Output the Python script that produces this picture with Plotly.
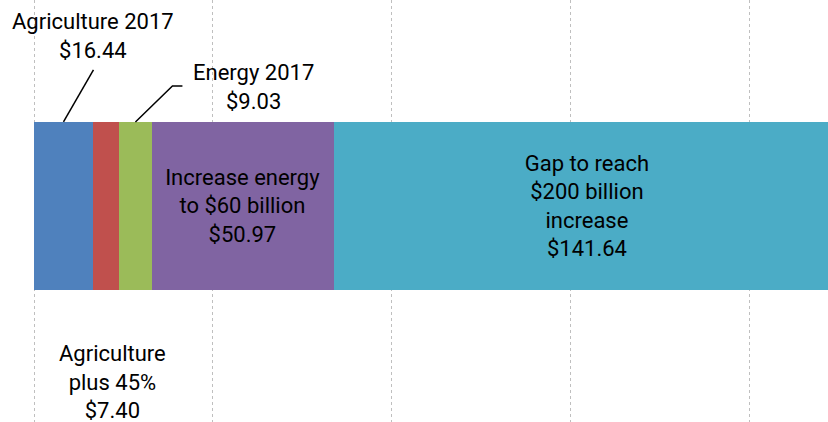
import plotly.graph_objects as go

# ---- data ----
categories = ["Agriculture 2017", "Agriculture plus 45%", "Energy 2017",
              "Increase energy to $60 billion", "Gap to reach $200 billion increase"]
values = [16.44, 7.40, 9.03, 50.97, 141.64]
inside_labels = ["", "", "", "Increase energy<br>to $60 billion", "Gap to reach<br>$200 billion<br>increase"]
show_inside = [False, False, False, True, True]
colors = ["#4F81BD", "#C0504D", "#9BBB59", "#8064A2", "#4BACC6"]
x_ticks = [0, 50, 100, 150, 200]

FONT = "Roboto"
FS = 22

fig = go.Figure()
for name, v, lab, show, col in zip(categories, values, inside_labels, show_inside, colors):
    txt = f"{lab}<br>${v:.2f}" if show else ""
    fig.add_trace(go.Bar(
        y=[0], x=[v], orientation="h", name=name, width=1,
        marker=dict(color=col, line=dict(width=0)),
        text=[txt], textposition="inside", insidetextanchor="middle",
        textangle=0, constraintext="none",
        insidetextfont=dict(family=FONT, size=FS, color="black"),
        hoverinfo="skip", showlegend=False,
    ))

# segment centers from cumulative sums
starts = [sum(values[:i]) for i in range(len(values))]
centers = [s + v / 2 for s, v in zip(starts, values)]

# outside labels
fig.add_annotation(x=centers[0], y=0.5, xref="x", yref="y",
                   text=f"{categories[0]}<br>${values[0]:.2f}",
                   showarrow=False, xshift=30, yshift=86,
                   font=dict(family=FONT, size=FS, color="black"))
fig.add_annotation(x=centers[2], y=0.5, xref="x", yref="y",
                   text=f"{categories[2]}<br>${values[2]:.2f}",
                   showarrow=False, xshift=118, yshift=35,
                   font=dict(family=FONT, size=FS, color="black"))
fig.add_annotation(x=centers[1], y=-0.5, xref="x", yref="y",
                   text=f"Agriculture<br>plus 45%<br>${values[1]:.2f}",
                   showarrow=False, xshift=6, yshift=-92,
                   font=dict(family=FONT, size=FS, color="black"))

# leader lines
fig.add_shape(type="line", xref="x", yref="y", xsizemode="pixel", ysizemode="pixel",
              xanchor=centers[0], yanchor=0.5, x0=0, y0=0, x1=30, y1=52,
              line=dict(color="black", width=1.5))
fig.add_shape(type="path", xref="x", yref="y", xsizemode="pixel", ysizemode="pixel",
              xanchor=centers[2], yanchor=0.5,
              path="M0,0 L37,36 L47,36",
              line=dict(color="black", width=1.5))

fig.update_layout(
    barmode="stack",
    width=828, height=422,
    margin=dict(l=33, r=0, t=0, b=0),
    paper_bgcolor="white", plot_bgcolor="white",
    xaxis=dict(range=[-0.3, 222.1], tickvals=x_ticks, showticklabels=False,
               showgrid=True, gridcolor="#BFBFBF", griddash="dot", gridwidth=1,
               zeroline=False, showline=False, ticks=""),
    yaxis=dict(range=[-1.286, 1.226], showticklabels=False, showgrid=False,
               zeroline=False, showline=False, ticks=""),
)

fig.write_html("out.html", config={"displayModeBar": False},
               post_script="document.body.style.margin='0';")
